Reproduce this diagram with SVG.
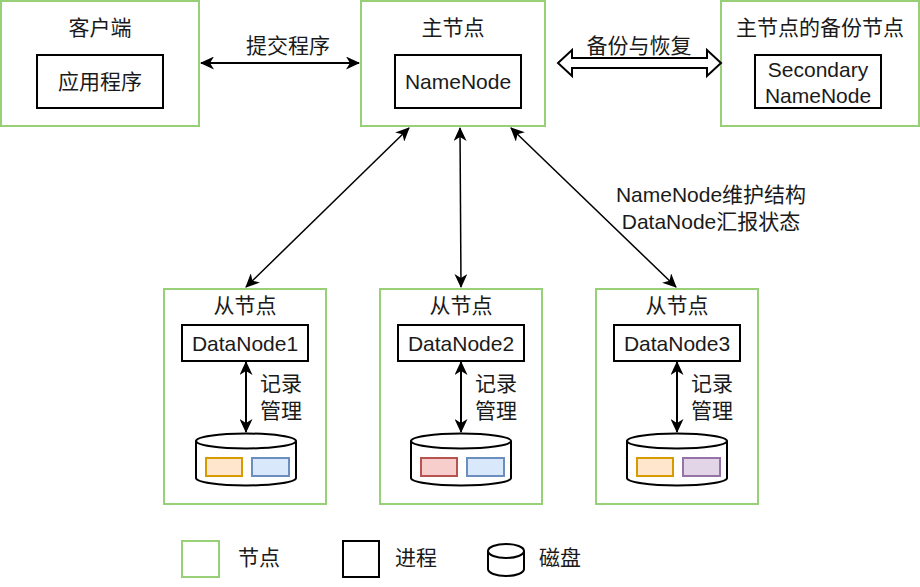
<svg xmlns="http://www.w3.org/2000/svg" width="920" height="587" viewBox="0 0 920 587">
<defs>
<style>
.node{fill:#fff;stroke:#97D077;stroke-width:2}
.proc{fill:#fff;stroke:#000;stroke-width:2}
.t{font-family:"Liberation Sans","Noto Sans CJK SC",sans-serif;font-size:21px;fill:#1a1a1a;text-anchor:middle;dominant-baseline:central}
.ln{stroke:#000;fill:none}
.cyl{fill:#fff;stroke:#000;stroke-width:2}
</style>
<marker id="ah" viewBox="0 0 14 13" refX="13" refY="6.5" markerWidth="14" markerHeight="13" markerUnits="userSpaceOnUse" orient="auto-start-reverse">
<path d="M0,0 L14,6.5 L0,13 L4,6.5 Z" fill="#000"/>
</marker>
</defs>
<rect width="920" height="587" fill="#fff"/>

<g id="client">
<rect class="node" x="1" y="1" width="198" height="125"/>
<text class="t" x="100" y="27">客户端</text>
<rect class="proc" x="37" y="55" width="126" height="53"/>
<text class="t" x="100" y="81">应用程序</text>
</g>

<g id="namenode">
<rect class="node" x="361" y="1" width="184" height="125"/>
<text class="t" x="453" y="27">主节点</text>
<rect class="proc" x="395" y="55" width="126" height="53"/>
<text class="t" x="458" y="81">NameNode</text>
</g>

<g id="secondary">
<rect class="node" x="721" y="1" width="198" height="125"/>
<text class="t" x="820" y="27">主节点的备份节点</text>
<rect class="proc" x="755" y="55" width="126" height="53"/>
<text class="t" x="818" y="69">Secondary</text>
<text class="t" x="818" y="95">NameNode</text>
</g>

<g id="datanode1">
<rect class="node" x="164" y="289" width="162" height="215"/>
<text class="t" x="245" y="305">从节点</text>
<rect class="proc" x="182" y="325" width="126" height="36"/>
<text class="t" x="245" y="343">DataNode1</text>
<path class="cyl" d="M196,441 a50,7.5 0 0 1 100,0 v37 a50,7.5 0 0 1 -100,0 z"/>
<path class="cyl" fill="none" d="M196,441 a50,7.5 0 0 0 100,0"/>
<rect x="206" y="458" width="36" height="18" fill="#ffe6cc" stroke="#d79b00" stroke-width="2"/>
<rect x="252" y="458" width="37" height="18" fill="#dae8fc" stroke="#6c8ebf" stroke-width="2"/>
</g>

<g id="datanode2">
<rect class="node" x="380" y="289" width="162" height="215"/>
<text class="t" x="461" y="305">从节点</text>
<rect class="proc" x="398" y="325" width="126" height="36"/>
<text class="t" x="461" y="343">DataNode2</text>
<path class="cyl" d="M411,441 a50,7.5 0 0 1 100,0 v37 a50,7.5 0 0 1 -100,0 z"/>
<path class="cyl" fill="none" d="M411,441 a50,7.5 0 0 0 100,0"/>
<rect x="421" y="458" width="36" height="18" fill="#f8cecc" stroke="#b85450" stroke-width="2"/>
<rect x="467" y="458" width="37" height="18" fill="#dae8fc" stroke="#6c8ebf" stroke-width="2"/>
</g>

<g id="datanode3">
<rect class="node" x="596" y="289" width="162" height="215"/>
<text class="t" x="677" y="305">从节点</text>
<rect class="proc" x="614" y="325" width="126" height="36"/>
<text class="t" x="677" y="343">DataNode3</text>
<path class="cyl" d="M627,441 a50,7.5 0 0 1 100,0 v37 a50,7.5 0 0 1 -100,0 z"/>
<path class="cyl" fill="none" d="M627,441 a50,7.5 0 0 0 100,0"/>
<rect x="637" y="458" width="36" height="18" fill="#ffe6cc" stroke="#d79b00" stroke-width="2"/>
<rect x="683" y="458" width="37" height="18" fill="#e1d5e7" stroke="#9673a6" stroke-width="2"/>
</g>

<g id="connectors">
<line class="ln" stroke-width="2" x1="201" y1="63" x2="359" y2="63" marker-start="url(#ah)" marker-end="url(#ah)"/>
<text class="t" x="288" y="45">提交程序</text>
<path d="M558,63 L572,50 L572,58 L707,58 L707,50 L721,63 L707,76 L707,68 L572,68 L572,76 Z" fill="#fff" stroke="#000" stroke-width="2" stroke-linejoin="miter"/>
<text class="t" x="639" y="45">备份与恢复</text>
<line class="ln" stroke-width="1.5" x1="409" y1="128" x2="246" y2="287" marker-start="url(#ah)" marker-end="url(#ah)"/>
<line class="ln" stroke-width="1.5" x1="460" y1="128" x2="461" y2="287" marker-start="url(#ah)" marker-end="url(#ah)"/>
<line class="ln" stroke-width="1.5" x1="511" y1="128" x2="676" y2="287" marker-start="url(#ah)" marker-end="url(#ah)"/>
<text class="t" x="711" y="194">NameNode维护结构</text>
<text class="t" x="711" y="221">DataNode汇报状态</text>
<line class="ln" stroke-width="2" x1="246" y1="362" x2="246" y2="432" marker-start="url(#ah)" marker-end="url(#ah)"/>
<text class="t" x="281" y="383">记录</text>
<text class="t" x="281" y="410">管理</text>
<line class="ln" stroke-width="2" x1="461" y1="362" x2="461" y2="432" marker-start="url(#ah)" marker-end="url(#ah)"/>
<text class="t" x="496" y="383">记录</text>
<text class="t" x="496" y="410">管理</text>
<line class="ln" stroke-width="2" x1="677" y1="362" x2="677" y2="432" marker-start="url(#ah)" marker-end="url(#ah)"/>
<text class="t" x="712" y="383">记录</text>
<text class="t" x="712" y="410">管理</text>
</g>

<g id="legend">
<rect class="node" x="182" y="541" width="37" height="36"/>
<text class="t" x="259" y="557">节点</text>
<rect class="proc" x="343" y="541" width="36" height="36"/>
<text class="t" x="416" y="557">进程</text>
<path class="cyl" d="M488,551 a18,7 0 0 1 36,0 v18 a18,7 0 0 1 -36,0 z"/>
<path class="cyl" fill="none" d="M488,551 a18,7 0 0 0 36,0"/>
<text class="t" x="560" y="557">磁盘</text>
</g>
</svg>
